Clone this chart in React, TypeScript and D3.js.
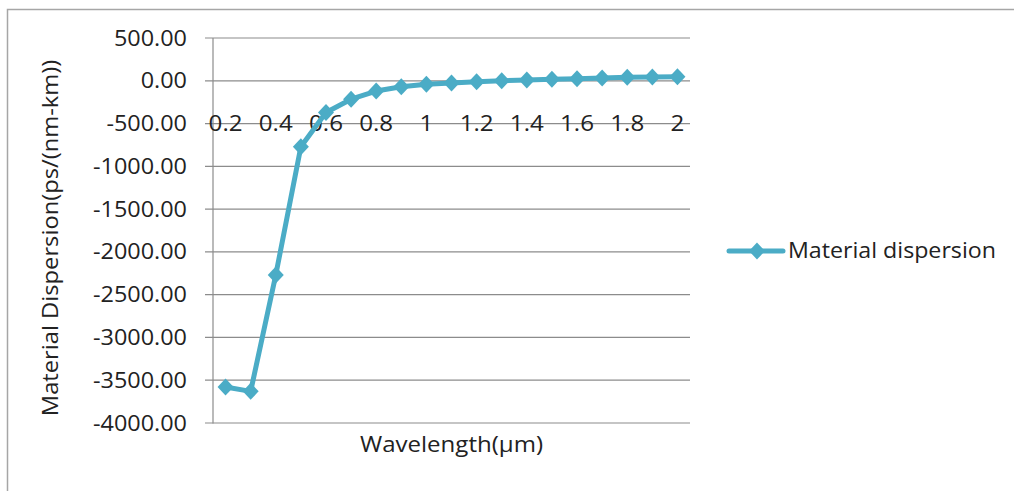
import React from "react";
import * as d3 from "d3";

const categories = ["0.2","0.3","0.4","0.5","0.6","0.7","0.8","0.9","1","1.1","1.2","1.3","1.4","1.5","1.6","1.7","1.8","1.9","2"];
const dispersion = [-3580, -3630, -2270, -770, -370, -215, -120, -70, -40, -25, -10, 0, 10, 18, 25, 32, 40, 45, 48];
const yTicks = [500, 0, -500, -1000, -1500, -2000, -2500, -3000, -3500, -4000];
const seriesName = "Material dispersion";
const xTitle = "Wavelength(\u00b5m)";
const yTitle = "Material Dispersion(ps/(nm-km))";

const W = 1014, H = 491;
const left = 213, right = 690, top = 38, bottom = 423;
const color = "#4BACC6";
const font = "'Open Sans', sans-serif";

function T({ x, y, sx = 1.12, rot = 0, anchor = "start", size = 21, children }: any) {
  return (
    <text transform={`translate(${x},${y})${rot ? ` rotate(${rot})` : ""} scale(${sx},1)`} textAnchor={anchor} fontSize={size} fill="#222">
      {children}
    </text>
  );
}

export default function App() {
  const x = d3.scaleBand<string>().domain(categories).range([left, right]);
  const y = d3.scaleLinear().domain([-4000, 500]).range([bottom, top]);
  const cx = (c: string) => (x(c) as number) + x.bandwidth() / 2;
  const line = d3.line<number>().x((_, i) => cx(categories[i])).y(d => y(d));
  const diamond = (px: number, py: number) => `M${px},${py - 8.5}L${px + 8},${py}L${px},${py + 8.5}L${px - 8},${py}Z`;

  return (
    <svg width={W} height={H} style={{ position: "absolute", left: 0, top: 0, background: "#fff" }} fontFamily={font}>
      <rect x={0} y={0} width={W} height={H} fill="#fff" />
      <rect x={7.5} y={9.5} width={W + 20} height={H + 20} fill="none" stroke="#a6a6a6" strokeWidth={1.5} />
      {yTicks.map(t => (
        <g key={t}>
          <line x1={left - 8} x2={right} y1={y(t)} y2={y(t)} stroke="#8c8c8c" strokeWidth={1.2} />
          <T x={187} y={y(t) + 7.5} anchor="end" sx={1.115}>{t.toFixed(2)}</T>
        </g>
      ))}
      <line x1={left} x2={left} y1={top} y2={bottom + 0.5} stroke="#8c8c8c" strokeWidth={1.2} />
      {categories.map((c, i) => i % 2 === 0 ? (
        <T key={c} x={cx(c)} y={131} anchor="middle" sx={1.15}>{c}</T>
      ) : null)}
      <path d={line(dispersion) || ""} fill="none" stroke={color} strokeWidth={5} strokeLinejoin="round" />
      {dispersion.map((v, i) => (
        <path key={i} d={diamond(cx(categories[i]), y(v))} fill={color} />
      ))}
      <T x={(left + right) / 2} y={452} anchor="middle" sx={1.145}>{xTitle}</T>
      <T x={58} y={238} rot={-90} anchor="middle" sx={1.13}>{yTitle}</T>
      <line x1={729} x2={783} y1={251} y2={251} stroke={color} strokeWidth={5} strokeLinecap="round" />
      <path d={diamond(757, 251)} fill={color} />
      <T x={788} y={258} sx={1.105}>{seriesName}</T>
    </svg>
  );
}
